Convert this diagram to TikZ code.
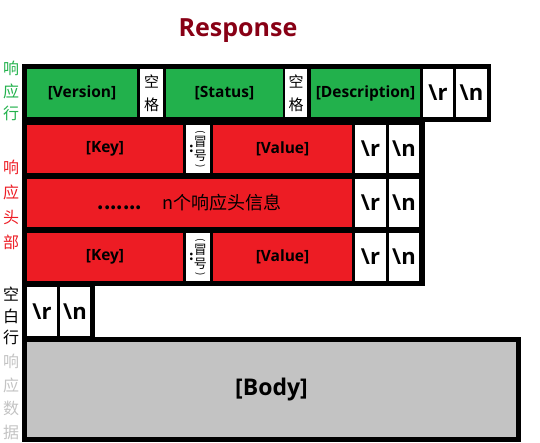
\documentclass[tikz,border=0pt]{standalone}
\usepackage{fontspec}
\setmainfont{Open Sans}
\newfontfamily\cjk{Noto Sans CJK SC}
\usepackage{graphicx}
\usepackage{tikz}
\usepackage{xcolor}

\definecolor{rowgreen}{HTML}{22B14C}
\definecolor{rowred}{HTML}{ED1C24}
\definecolor{bodygray}{HTML}{C3C3C3}
\definecolor{titlered}{HTML}{880015}

\begin{document}
\begin{tikzpicture}[x=1pt,y=-1pt,
    cell/.style={anchor=north west,inner sep=0pt,outer sep=0pt,minimum height=48,align=center},
    latin/.style={font=\fontsize{15.5}{15.5}\selectfont\bfseries},
    crlf/.style={cell,fill=white,font=\fontsize{22}{22}\selectfont\bfseries},
    space/.style={cell,fill=white,font=\cjk\fontsize{15}{23}\selectfont},
    sidetext/.style={inner sep=0pt,align=center,font=\cjk\fontsize{16}{#1}\selectfont}]
    \useasboundingbox (0,0) rectangle (540,442);
    \node[font=\fontsize{25}{25}\selectfont\bfseries,text=titlered] (title) at (238,31) {Response};

    % black frames
    \fill (22,64) rectangle (491,122);
    \fill (22,122) rectangle (425,286);
    \fill (22,283) rectangle (95,341);
    \fill (22,337) rectangle (521,442);

    % status line
    \node[cell,latin,fill=rowgreen,minimum width=110] (version) at (27,69) {[Version]};
    \node[space,minimum width=23] (sp1) at (140,69) {空\\格};
    \node[cell,latin,fill=rowgreen,minimum width=117] (status) at (166,69) {[Status]};
    \node[space,minimum width=22] (sp2) at (285,69) {空\\格};
    \node[cell,latin,fill=rowgreen,minimum width=109] (descr) at (311,69) {[Description]};
    \node[crlf,minimum width=30] (cr0) at (423,69) {\textbackslash r};
    \node[crlf,minimum width=31] (lf0) at (456,69) {\textbackslash n};

    % header lines
    \foreach \r/\y in {1/125,3/233}{
        \node[cell,latin,fill=rowred,minimum width=156] (key\r) at (27,\y) {[Key]};
        \node[cell,fill=white,minimum width=24,font=\cjk\fontsize{13}{13}\selectfont] (colon\r) at (186,\y)
            {$\vcenter{\hbox{\cjk\bfseries :}}\vcenter{\hbox{\shortstack{\rotatebox{-90}{\fontsize{10}{10}\selectfont(}\\冒\\[-1pt]号\\\rotatebox{-90}{\fontsize{10}{10}\selectfont)}}}}$};
        \node[cell,latin,fill=rowred,minimum width=139] (value\r) at (213,\y) {[Value]};
    }
    \node[cell,fill=rowred,minimum width=325,font=\cjk\fontsize{18}{18}\selectfont] (info) at (27,179)
        {\textbf{.......}\hspace{20pt}n个响应头信息};
    \foreach \r/\y in {1/125,2/179,3/233}{
        \node[crlf,minimum width=31] (cr\r) at (355,\y) {\textbackslash r};
        \node[crlf,minimum width=30] (lf\r) at (389,\y) {\textbackslash n};
    }

    % blank line
    \node[crlf,minimum width=30,minimum height=49] (cr4) at (27,287) {\textbackslash r};
    \node[crlf,minimum width=30,minimum height=49] (lf4) at (60,287) {\textbackslash n};

    % body
    \node[cell,fill=bodygray,minimum width=489,minimum height=95,font=\fontsize{23}{23}\selectfont\bfseries] (body) at (27,342) {[Body]};

    % side labels
    \node[sidetext=22.5,text=rowgreen] (lblstatus) at (11,91) {响\\应\\行};
    \node[sidetext=25,text=rowred] (lblheader) at (11,205) {响\\应\\头\\部};
    \node[sidetext=21.5] (lblblank) at (11,316) {空\\白\\行};
    \node[sidetext=23.5,text=bodygray] (lbldata) at (11,397) {响\\应\\数\\据};
\end{tikzpicture}
\end{document}
